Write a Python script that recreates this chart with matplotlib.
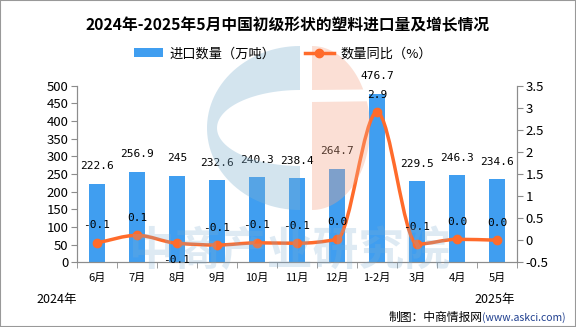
import matplotlib
matplotlib.use('Agg')
import matplotlib.pyplot as plt
import numpy as np
from matplotlib.path import Path
from matplotlib.patches import PathPatch, Rectangle

plt.rcParams['font.family'] = ['Noto Sans CJK SC', 'DejaVu Sans']
plt.rcParams['axes.unicode_minus'] = False

months = ['6月', '7月', '8月', '9月', '10月', '11月', '12月', '1-2月', '3月', '4月', '5月']
imports = [222.6, 256.9, 245, 232.6, 240.3, 238.4, 264.7, 476.7, 229.5, 246.3, 234.6]
growth = [-0.06, 0.11, -0.07, -0.11, -0.06, -0.07, 0.02, 2.9, -0.09, 0.02, 0.0]
bar_labels = ['222.6', '256.9', '245', '232.6', '240.3', '238.4', '264.7', '476.7', '229.5', '246.3', '234.6']

BLUE = '#409ef0'
ORANGE = '#ff6b2b'
GRAY = '#8c8c8c'
NUM_FONT = ['DejaVu Sans Mono', 'Noto Sans CJK SC']


def monotone_path(xs, ys):
    # monotone cubic (Fritsch-Carlson) drawn as bezier segments
    xs = np.asarray(xs, float)
    ys = np.asarray(ys, float)
    h = np.diff(xs)
    d = np.diff(ys) / h
    m = np.zeros_like(ys)
    m[0], m[-1] = d[0], d[-1]
    for i in range(1, len(ys) - 1):
        if d[i - 1] * d[i] > 0:
            m[i] = 2 / (1 / d[i - 1] + 1 / d[i])
    verts = [(xs[0], ys[0])]
    codes = [Path.MOVETO]
    for i in range(len(xs) - 1):
        verts += [(xs[i] + h[i] / 3, ys[i] + m[i] * h[i] / 3),
                  (xs[i + 1] - h[i] / 3, ys[i + 1] - m[i + 1] * h[i] / 3),
                  (xs[i + 1], ys[i + 1])]
        codes += [Path.CURVE4] * 3
    return Path(verts, codes)


def ellipse_pts(cx, cy, rx, ry, t0, t1, n=60):
    t = np.radians(np.linspace(t0, t1, n))
    return np.column_stack([cx + rx * np.cos(t), cy - ry * np.sin(t)])


fig = plt.figure(figsize=(5.76, 3.27), dpi=100)
ax = fig.add_axes([0.1337, 0.198, 0.7639, 0.54])
ax2 = ax.twinx()

x = np.arange(len(months))
bars = ax.bar(x, imports, width=0.4, color=BLUE, zorder=2)
ax.set_xlim(-0.5, len(months) - 0.5)
ax.set_ylim(0, 500)
ax.set_yticks(np.arange(0, 501, 50))
ax.set_xticks(x)
ax.set_xticklabels(months, fontsize=8)
ax.set_xticks(np.arange(-0.5, len(months), 1), minor=True)
ax.tick_params(axis='x', which='major', length=0, pad=8)
ax.tick_params(axis='x', which='minor', length=4, color=GRAY)
ax.tick_params(axis='y', labelsize=9.5, length=4, color=GRAY, pad=2)
for i, v in enumerate(imports):
    ax.annotate(bar_labels[i], (x[i], v), xytext=(0, 9), textcoords='offset points',
                ha='center', va='bottom', fontsize=8, family=NUM_FONT)

ax2.set_ylim(-0.5, 3.5)
ax2.set_yticks(np.arange(-0.5, 3.51, 0.5))
ax2.set_yticklabels(['-0.5', '0', '0.5', '1', '1.5', '2', '2.5', '3', '3.5'])
ax2.tick_params(axis='y', labelsize=9.5, length=4, color=GRAY, pad=2)
ax2.add_patch(PathPatch(monotone_path(x, growth), fill=False, edgecolor=ORANGE, lw=2.5, zorder=3))
ax2.plot(x, growth, 'o', color=ORANGE, ms=6, zorder=4)
for i, v in enumerate(growth):
    off = -16 if i == 2 else 9
    ax2.annotate(f'{v:.1f}', (x[i], v), xytext=(0, off), textcoords='offset points',
                 ha='center', va='bottom', fontsize=8, family=NUM_FONT)

for a in (ax, ax2):
    a.spines['top'].set_visible(False)
    for s in ('left', 'right', 'bottom'):
        a.spines[s].set_color(GRAY)
ax.patch.set_visible(False)

# legend
line_handle = plt.Line2D([], [], color=ORANGE, lw=2.5, marker='o', ms=6)
fig.legend([bars, line_handle], ['进口数量（万吨）', '数量同比（%）'], loc='center',
           bbox_to_anchor=(0.491, 0.835), ncol=2, frameon=False, fontsize=9.5,
           handlelength=2.2, columnspacing=2.2, handletextpad=0.5)

fig.text(0.5, 0.924, '2024年-2025年5月中国初级形状的塑料进口量及增长情况', ha='center', va='center',
         fontsize=11.3, fontweight='bold')
fig.text(0.064, 0.085, '2024年', ha='left', va='center', fontsize=9)
fig.text(0.823, 0.085, '2025年', ha='left', va='center', fontsize=9)
fig.text(0.674, 0.03, '制图：中商情报网', ha='left', va='center', fontsize=8.5)
fig.text(0.836, 0.03, '(www.askci.com)', ha='left', va='center', fontsize=7.5, color='#1f3f8f')

# faint watermark overlay, pixel coordinates
wm = fig.add_axes([0, 0, 1, 1], zorder=5)
wm.set_xlim(0, 576)
wm.set_ylim(327, 0)
wm.axis('off')
outer = ellipse_pts(300, 128, 93, 82, 90, 270)
inner = ellipse_pts(300, 128, 83, 38, 270, 90)
blue_c = np.vstack([outer, inner, outer[:1]])
wm.add_patch(PathPatch(Path(blue_c), color='#81b2d1', alpha=0.35, lw=0))
peach_top = ellipse_pts(312, 128, 58, 82, 90, 28)
peach_top = np.vstack([[312, 90], peach_top[::-1], [312, 46]])[::-1]
peach_bot = ellipse_pts(312, 128, 58, 82, 19, -90)
wm.add_patch(PathPatch(Path(np.vstack([peach_top, [[312, 90]]])), color='#f4a687', alpha=0.35, lw=0))
wm.add_patch(PathPatch(Path(np.vstack([[[312, 102]], peach_bot, [[312, 102]]])), color='#f4a687',
                       alpha=0.35, lw=0))
wm.text(290, 252, '中商产业研究院', ha='center', va='center', fontsize=33, fontweight='bold',
        color='#7eaed3', alpha=0.25)

fig.patches.append(Rectangle((0, 0), 1, 1, transform=fig.transFigure, fill=False,
                             edgecolor='#999999', lw=1.5))

fig.savefig('out.png', dpi=100)
